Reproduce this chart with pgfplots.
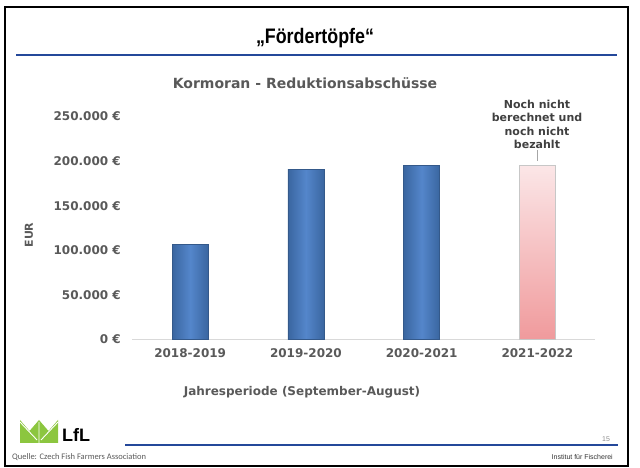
\documentclass[border=0pt]{standalone}
\usepackage{fontspec}
\setmainfont{DejaVu Sans}
\newfontfamily\arialfont{Liberation Sans}
\newfontfamily\carlito{Carlito}
\usepackage{pgfplots}
\pgfplotsset{compat=1.18}
\definecolor{txtgray}{HTML}{595959}
\definecolor{anngray}{HTML}{404040}
\definecolor{barmid}{HTML}{5486CB}
\definecolor{baredge}{HTML}{3A66A0}
\definecolor{bardraw}{HTML}{34598A}
\definecolor{pinktop}{HTML}{FBE6E7}
\definecolor{pinkbot}{HTML}{F09A9C}
\definecolor{slideblue}{HTML}{24489A}
\definecolor{lfgreen}{HTML}{8CC63F}
\begin{document}
\begin{tikzpicture}[x=1pt,y=1pt]
\path (0,0) rectangle (640,468);
\draw[line width=1.5pt] (5,2) rectangle (628,461);
% title
\node[anchor=base, font=\arialfont\bfseries\fontsize{21}{24}\selectfont] at (315,424) {\scalebox{0.85}[1]{„Fördertöpfe“}};
\draw[slideblue, line width=2.5pt] (16,413) -- (617,413);
% chart title
\node[font=\bfseries\fontsize{14}{16}\selectfont, text=txtgray] at (305,385) {Kormoran - Reduktionsabschüsse};
\begin{axis}[
  at={(164.3,144)}, anchor=origin,
  scale only axis, width=463pt, height=223pt,
  xmin=-0.5, xmax=3.5, ymin=0, ymax=250000,
  axis x line*=bottom, axis y line*=left,
  y axis line style={draw=none},
  x axis line style={draw=black!15, line width=0.8pt, -},
  xtick={0,1,2,3},
  xticklabels={2018-2019,2019-2020,2020-2021,2021-2022},
  ytick={0,50000,100000,150000,200000,250000},
  yticklabels={0 €,50.000 €,100.000 €,150.000 €,200.000 €,250.000 €},
  scaled y ticks=false,
  major tick length=0pt,
  tick label style={font=\bfseries\fontsize{12}{14}\selectfont, text=txtgray},
  yticklabel style={xshift=-8pt},
  xticklabel style={yshift=-6pt},
  ybar, bar width=36pt, enlargelimits=false, clip=false,
]
\addplot[bar shift=0pt, draw=bardraw, line width=0.6pt, left color=baredge, right color=baredge, middle color=barmid]
  coordinates {(0,107000)};
\addplot[bar shift=0pt, draw=bardraw, line width=0.6pt, left color=baredge, right color=baredge, middle color=barmid]
  coordinates {(1,191000)};
\addplot[bar shift=0pt, draw=bardraw, line width=0.6pt, left color=baredge, right color=baredge, middle color=barmid]
  coordinates {(2,195000)};
\addplot[bar shift=0pt, draw=black!22, line width=0.8pt, top color=pinktop, bottom color=pinkbot]
  coordinates {(3,195000)};
\end{axis}
% axis labels
\node[rotate=90, font=\bfseries\fontsize{11}{13}\selectfont, text=txtgray] at (29,233) {EUR};
\node[anchor=base, font=\bfseries\fontsize{12}{14}\selectfont, text=txtgray] at (302,72) {Jahresperiode (September-August)};
% annotation
\node[anchor=south, align=center, font=\bfseries\fontsize{11}{13.5}\selectfont, text=anngray, inner sep=1pt] at (537,318) {Noch nicht\\berechnet und\\noch nicht\\bezahlt};
\draw[black!35, line width=0.6pt] (537,318) -- (537,307);
% footer
\fill[lfgreen] (20,25) -- (20,48) -- (29.5,37) -- (39,48) -- (48.5,37) -- (58,48) -- (58,25) -- cycle;
\draw[white, line width=0.9pt] (20,46) -- (37,28) (39,25) -- (39,46) (58,46) -- (41,28);
\node[anchor=base west, font=\arialfont\bfseries\fontsize{18}{20}\selectfont, inner sep=0pt] at (62,26) {LfL};
\draw[slideblue, line width=2.2pt] (125,23) -- (618,23);
\node[anchor=base, font=\arialfont\fontsize{7}{8}\selectfont, text=black!45] at (606,26) {15};
\node[anchor=base west, font=\carlito\fontsize{8.5}{10}\selectfont, text=black!65, inner sep=0pt] at (12,8) {Quelle: Czech Fish Farmers Association};
\node[anchor=base east, font=\arialfont\fontsize{7}{8}\selectfont, text=black!80, inner sep=0pt] at (613,8) {Institut für Fischerei};
\end{tikzpicture}
\end{document}
